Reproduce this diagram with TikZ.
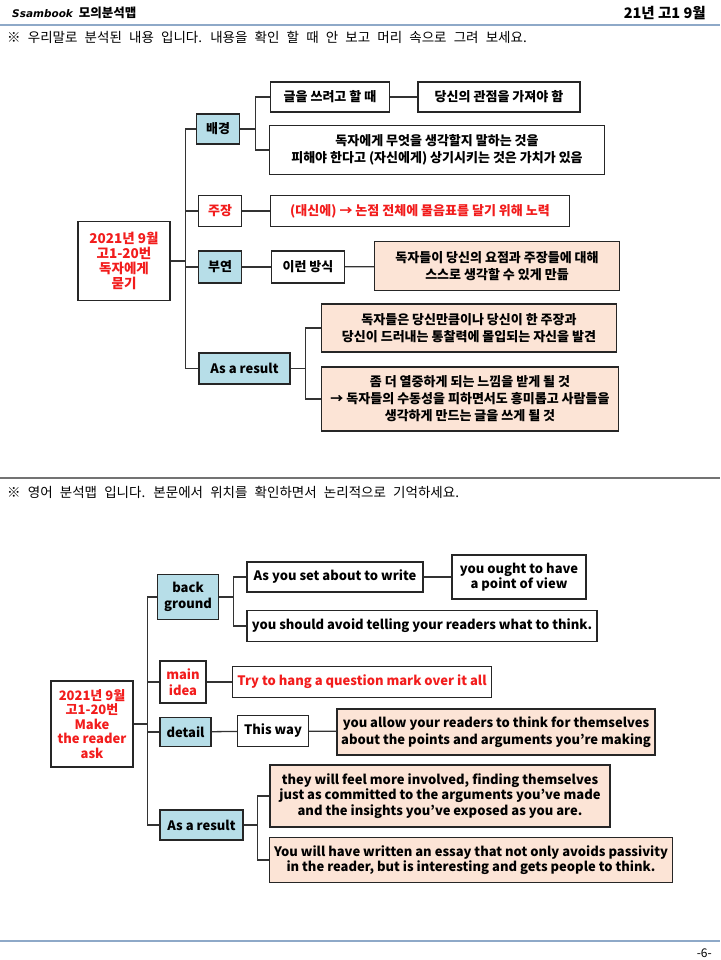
\documentclass[tikz,border=0pt]{standalone}
\usepackage{fontspec}
\setmainfont{Noto Sans CJK KR}
\newfontfamily\logofont{DejaVu Sans}
\usetikzlibrary{positioning}
\definecolor{keyblue}{HTML}{B7DEE8}
\definecolor{peach}{HTML}{FCE4D6}
\definecolor{hotred}{HTML}{F21C1C}
\definecolor{rulec}{HTML}{8EA9C8}
\newcommand\memosize{\fontsize{13.5}{14}\selectfont\spaceskip=0.53em\relax}

\begin{document}
\begin{tikzpicture}[x=1pt, y=-1pt,
  mbox/.style={rectangle, draw=black!85, line width=1.3pt, fill=white, align=center, inner sep=2pt, font=\bfseries\fontsize{13}{17}\selectfont},
  kbox/.style={mbox, fill=keyblue},
  pbox/.style={mbox, fill=peach},
  rbox/.style={mbox, text=hotred, font=\bfseries\fontsize{13.5}{15}\selectfont},
  hot/.style={text=hotred},
  tight/.style={font=\bfseries\fontsize{13}{15.5}\selectfont},
  link/.style={draw=black!80, line width=1.3pt},
  memo/.style={anchor=west, inner sep=0pt, font=\memosize}
]
\useasboundingbox (0,0) rectangle (720,960);
\fill[white] (0,0) rectangle (720,960);

% header and rules
\node[anchor=west, inner sep=0pt] (logo) at (12,13) {{\logofont\bfseries\itshape\fontsize{10.5}{11}\selectfont Ssambook}\hspace{6pt}{\bfseries\fontsize{12.5}{13}\selectfont 모의분석맵}};
\node[anchor=east, inner sep=0pt, font=\bfseries\fontsize{14.5}{15}\selectfont] (exam) at (706,13) {21년 고1 9월};
\draw[rulec, line width=1.2pt] (0,25) -- (720,25);
\node[memo] (memo1) at (7,37) {※ 우리말로 분석된 내용 입니다. 내용을 확인 할 때 안 보고 머리 속으로 그려 보세요.};
\draw[black!55, line width=1.2pt] (0,478) -- (720,478);
\node[memo] (memo2) at (7,492) {※ 영어 분석맵 입니다. 본문에서 위치를 확인하면서 논리적으로 기억하세요.};
\draw[rulec, line width=1.2pt] (0,941) -- (720,941);
\node[anchor=east, inner sep=0pt, font=\fontsize{12}{13}\selectfont] (page) at (712,953) {-6-};

% Korean map
\node[rbox, minimum width=92pt, minimum height=79pt] (root1) at (124,261) {2021년 9월\\고1-20번\\독자에게\\묻기};
\node[kbox, minimum width=43pt, minimum height=30pt] (bg) at (218,129) {배경};
\node[mbox, minimum width=119pt, minimum height=30pt] (bgA) at (330,97) {글을 쓰려고 할 때};
\node[mbox, minimum width=162pt, minimum height=30pt] (bgB) at (499,97) {당신의 관점을 가져야 함};
\node[mbox, minimum width=335pt, minimum height=49pt] (bgC) at (437,150) {독자에게 무엇을 생각할지 말하는 것을\\피해야 한다고 (자신에게) 상기시키는 것은 가치가 있음};
\node[mbox, hot, minimum width=43pt, minimum height=31pt] (cl) at (220,211) {주장};
\node[mbox, hot, minimum width=299pt, minimum height=31pt] (clA) at (420,211) {(대신에) → 논점 전체에 물음표를 달기 위해 노력};
\node[kbox, minimum width=43pt, minimum height=32pt] (dt) at (220,267) {부연};
\node[mbox, minimum width=73pt, minimum height=32pt] (dtA) at (308,267) {이런 방식};
\node[pbox, minimum width=245pt, minimum height=49pt] (dtB) at (497,266) {독자들이 당신의 요점과 주장들에 대해\\스스로 생각할 수 있게 만듦};
\node[kbox, minimum width=91pt, minimum height=31pt] (rs) at (244.5,368.5) {As a result};
\node[pbox, minimum width=295pt, minimum height=48pt] (rsA) at (469,328) {독자들은 당신만큼이나 당신이 한 주장과\\당신이 드러내는 통찰력에 몰입되는 자신을 발견};
\node[pbox, minimum width=297pt, minimum height=64pt] (rsB) at (470,399) {좀 더 열중하게 되는 느낌을 받게 될 것\\→ 독자들의 수동성을 피하면서도 흥미롭고 사람들을\\생각하게 만드는 글을 쓰게 될 것};

% English map
\node[rbox, minimum width=82pt, minimum height=86pt, font=\bfseries\fontsize{13}{14.5}\selectfont] (root2) at (92,724) {2021년 9월\\고1-20번\\Make\\the reader\\ask};
\node[kbox, tight, minimum width=61pt, minimum height=45pt] (bg2) at (188,597) {back\\ground};
\node[mbox, minimum width=176pt, minimum height=30pt] (bg2A) at (335,577) {As you set about to write};
\node[mbox, tight, minimum width=134pt, minimum height=44pt] (bg2B) at (519,577) {you ought to have\\a point of view};
\node[mbox, minimum width=350pt, minimum height=31pt] (bg2C) at (422,626) {you should avoid telling your readers what to think.};
\node[mbox, hot, tight, minimum width=46pt, minimum height=42pt] (cl2) at (183,682) {main\\idea};
\node[mbox, hot, minimum width=259pt, minimum height=31pt] (cl2A) at (362,682) {Try to hang a question mark over it all};
\node[kbox, minimum width=51pt, minimum height=29pt] (dt2) at (185.5,732) {detail};
\node[mbox, minimum width=71pt, minimum height=31pt] (dt2A) at (273,731) {This way};
\node[pbox, minimum width=318pt, minimum height=46pt] (dt2B) at (496,732) {you allow your readers to think for themselves\\about the points and arguments you’re making};
\node[kbox, minimum width=83pt, minimum height=30pt] (rs2) at (201.5,825) {As a result};
\node[pbox, tight, minimum width=340pt, minimum height=62pt] (rs2A) at (440,796) {they will feel more involved, finding themselves\\just as committed to the arguments you’ve made\\and the insights you’ve exposed as you are.};
\node[pbox, tight, minimum width=403pt, minimum height=45pt] (rs2B) at (471,860) {You will have written an essay that not only avoids passivity\\in the reader, but is interesting and gets people to think.};

% elbow connectors
\foreach \x/\y in {root1/bg,root1/cl,root1/dt,root1/rs,bg/bgA,bg/bgC,rs/rsA,rs/rsB} \draw[link] (\x.east) -- ++(15,0) |- (\y.west);
\foreach \x/\y in {root2/bg2,root2/cl2,root2/dt2,root2/rs2,bg2/bg2A,bg2/bg2C,rs2/rs2A,rs2/rs2B} \draw[link] (\x.east) -- ++(14,0) |- (\y.west);
% straight connectors
\foreach \x/\y in {bgA/bgB,cl/clA,dt/dtA,dtA/dtB,bg2A/bg2B,cl2/cl2A,dt2/dt2A,dt2A/dt2B} \draw[link] (\x)--(\y);
\end{tikzpicture}
\end{document}
